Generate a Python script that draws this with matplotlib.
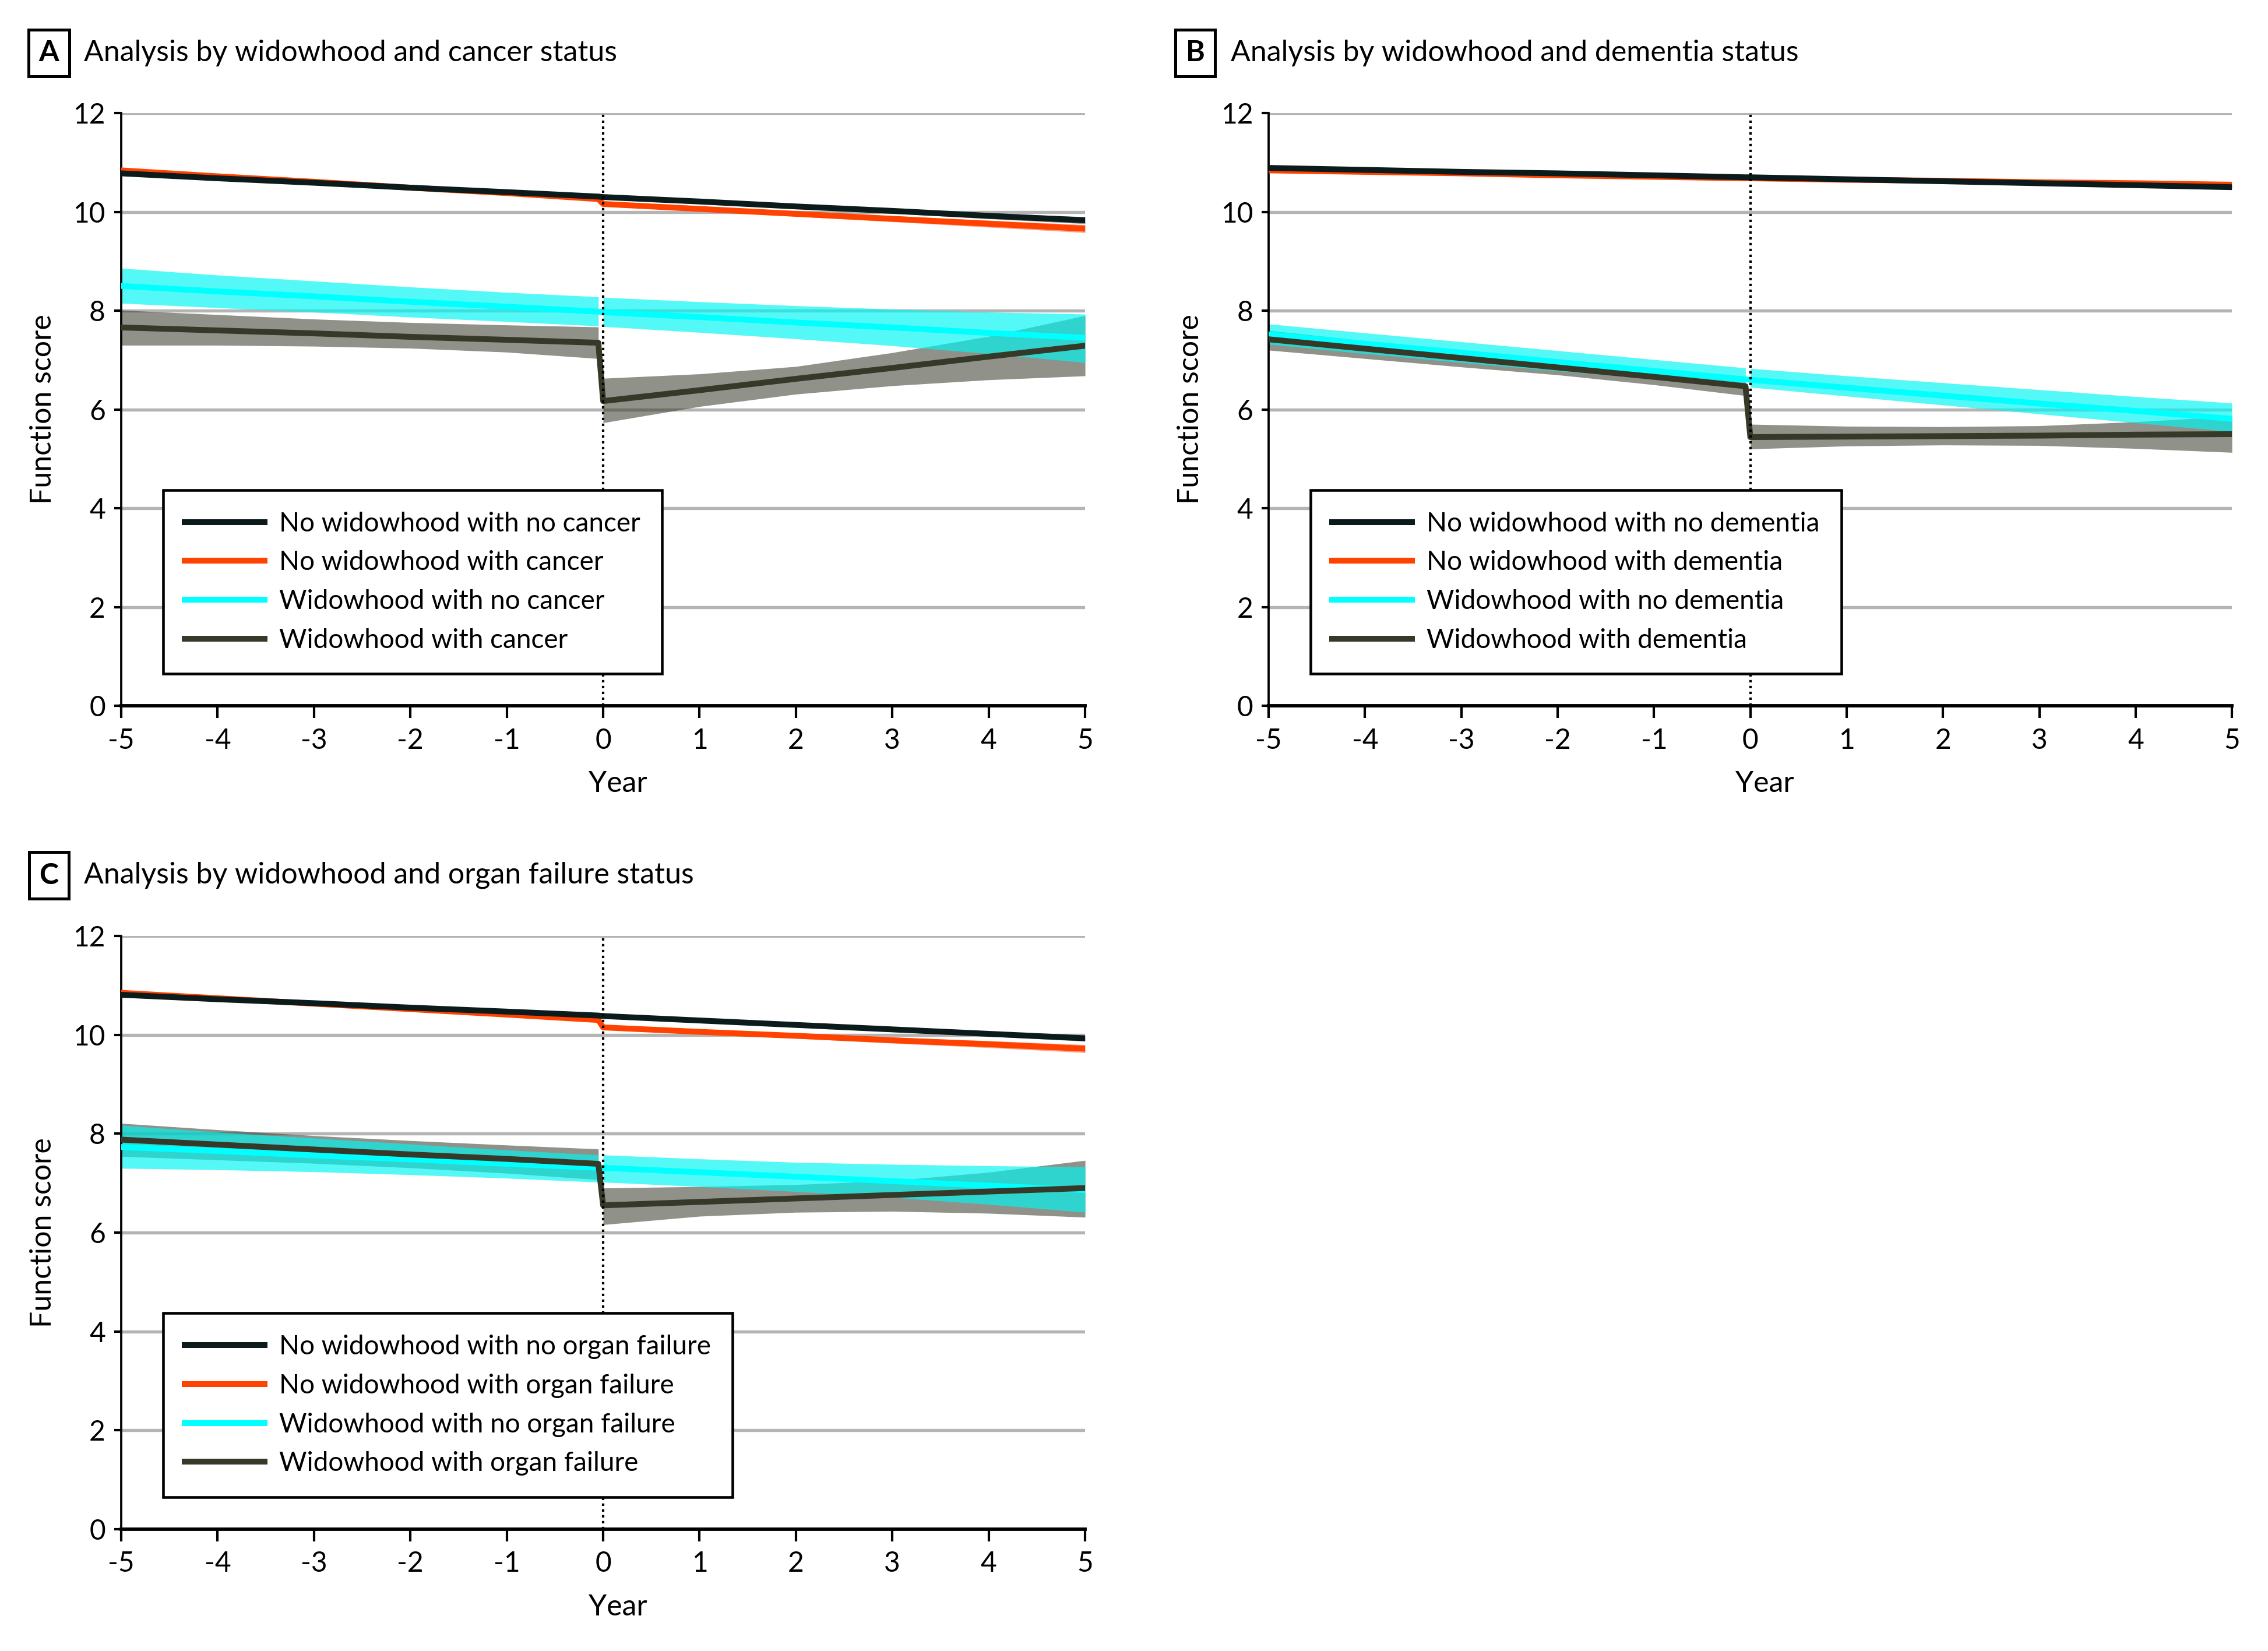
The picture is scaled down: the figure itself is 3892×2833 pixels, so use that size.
import numpy as np
import matplotlib
matplotlib.use("Agg")
import matplotlib.pyplot as plt
from matplotlib.lines import Line2D

plt.rcParams['font.family'] = ['Lato', 'DejaVu Sans']
plt.rcParams['axes.unicode_minus'] = False

# years: before widowhood (ends just before 0) and after widowhood
X_PRE = [-5, -4, -3, -2, -1, -0.05]
X_POST = [0, 1, 2, 3, 4, 5]

# ---- Panel A: cancer ----
A_NW_NC = [10.78, 10.68, 10.59, 10.49, 10.40, 10.31, 10.30, 10.21, 10.11, 10.02, 9.92, 9.83]
A_NW_NC_CI = [0.04, 0.035, 0.03, 0.03, 0.03, 0.03, 0.03, 0.035, 0.04, 0.05, 0.06, 0.07]
A_NW_C = [10.84, 10.72, 10.61, 10.49, 10.38, 10.26, 10.16, 10.06, 9.96, 9.86, 9.76, 9.66]
A_NW_C_CI = [0.04, 0.035, 0.03, 0.03, 0.03, 0.04, 0.04, 0.04, 0.05, 0.06, 0.07, 0.08]
A_W_NC = [8.50, 8.39, 8.29, 8.18, 8.08, 7.98, 7.97, 7.87, 7.76, 7.66, 7.55, 7.45]
A_W_NC_LO = [8.15, 8.06, 7.97, 7.87, 7.78, 7.69, 7.68, 7.56, 7.43, 7.29, 7.13, 6.95]
A_W_NC_HI = [8.86, 8.72, 8.60, 8.48, 8.37, 8.28, 8.27, 8.18, 8.10, 8.03, 7.97, 7.93]
A_W_C = [7.66, 7.60, 7.54, 7.47, 7.41, 7.35, 6.17, 6.39, 6.62, 6.84, 7.07, 7.29]
A_W_C_LO = [7.30, 7.30, 7.28, 7.24, 7.16, 7.03, 5.73, 6.06, 6.31, 6.48, 6.60, 6.68]
A_W_C_HI = [8.01, 7.92, 7.83, 7.76, 7.71, 7.67, 6.63, 6.72, 6.87, 7.15, 7.48, 7.90]

# ---- Panel B: dementia ----
B_NW_NC = [10.89, 10.85, 10.81, 10.78, 10.74, 10.70, 10.70, 10.66, 10.62, 10.58, 10.54, 10.50]
B_NW_NC_CI = [0.03, 0.03, 0.025, 0.025, 0.025, 0.025, 0.025, 0.025, 0.025, 0.03, 0.03, 0.035]
B_NW_C = [10.84, 10.81, 10.78, 10.74, 10.71, 10.68, 10.68, 10.65, 10.63, 10.60, 10.58, 10.55]
B_NW_C_CI = [0.03, 0.03, 0.025, 0.025, 0.025, 0.025, 0.025, 0.025, 0.025, 0.03, 0.03, 0.035]
B_W_NC = [7.52, 7.33, 7.15, 6.96, 6.78, 6.61, 6.60, 6.44, 6.28, 6.12, 5.97, 5.81]
B_W_NC_LO = [7.32, 7.13, 6.95, 6.78, 6.62, 6.46, 6.45, 6.27, 6.09, 5.91, 5.73, 5.55]
B_W_NC_HI = [7.73, 7.55, 7.37, 7.19, 7.01, 6.84, 6.83, 6.68, 6.54, 6.40, 6.26, 6.13]
B_W_C = [7.42, 7.23, 7.04, 6.85, 6.66, 6.47, 5.44, 5.45, 5.46, 5.47, 5.49, 5.50]
B_W_C_LO = [7.20, 7.03, 6.86, 6.70, 6.50, 6.28, 5.20, 5.26, 5.28, 5.27, 5.21, 5.13]
B_W_C_HI = [7.60, 7.39, 7.18, 6.97, 6.76, 6.55, 5.70, 5.66, 5.65, 5.67, 5.75, 5.86]

# ---- Panel C: organ failure ----
C_NW_NC = [10.81, 10.72, 10.64, 10.55, 10.47, 10.39, 10.38, 10.29, 10.20, 10.11, 10.02, 9.93]
C_NW_NC_CI = [0.04, 0.035, 0.03, 0.03, 0.03, 0.03, 0.03, 0.035, 0.04, 0.05, 0.05, 0.06]
C_NW_C = [10.85, 10.74, 10.63, 10.52, 10.41, 10.30, 10.15, 10.06, 9.98, 9.89, 9.81, 9.72]
C_NW_C_CI = [0.04, 0.035, 0.03, 0.03, 0.03, 0.04, 0.04, 0.04, 0.05, 0.06, 0.07, 0.08]
C_W_NC = [7.73, 7.65, 7.56, 7.48, 7.39, 7.31, 7.31, 7.22, 7.13, 7.04, 6.95, 6.86]
C_W_NC_LO = [7.30, 7.27, 7.23, 7.17, 7.10, 7.02, 7.02, 6.93, 6.83, 6.71, 6.57, 6.41]
C_W_NC_HI = [8.17, 8.03, 7.91, 7.79, 7.67, 7.57, 7.57, 7.49, 7.42, 7.38, 7.35, 7.33]
C_W_C = [7.88, 7.78, 7.68, 7.58, 7.49, 7.39, 6.55, 6.62, 6.69, 6.76, 6.83, 6.90]
C_W_C_LO = [7.54, 7.47, 7.40, 7.31, 7.20, 7.07, 6.16, 6.33, 6.41, 6.43, 6.39, 6.31]
C_W_C_HI = [8.21, 8.08, 7.96, 7.86, 7.77, 7.69, 6.90, 6.93, 6.97, 7.05, 7.22, 7.46]

X_TICKS = [-5, -4, -3, -2, -1, 0, 1, 2, 3, 4, 5]
Y_TICKS = [0, 2, 4, 6, 8, 10, 12]

DARK = '#0b1b1b'
ORANGE = '#ff4200'
CYAN = '#00ffff'
OLIVE = '#363828'

FS_TICK = 11.5
FS_LEG = 11
FS_TITLE = 12
LW = 2.4


def draw_band(ax, lo, hi, color, alpha):
    n = len(X_PRE)
    ax.fill_between(X_PRE, lo[:n], hi[:n], color=color, alpha=alpha, lw=0)
    ax.fill_between(X_POST, lo[n:], hi[n:], color=color, alpha=alpha, lw=0)


def panel(ax, nw_nc, nw_nc_ci, nw_c, nw_c_ci, w_nc, w_nc_lo, w_nc_hi,
          w_c, w_c_lo, w_c_hi, cond):
    xs = X_PRE + X_POST
    for y in Y_TICKS[1:]:
        ax.axhline(y, color='#b4b4b4', lw=1.3, zorder=0)

    draw_band(ax, w_c_lo, w_c_hi, OLIVE, 0.55)
    draw_band(ax, w_nc_lo, w_nc_hi, '#00f6f2', 0.67)
    a = np.array(nw_c); e = np.array(nw_c_ci)
    draw_band(ax, a - e, a + e, ORANGE, 0.5)
    a = np.array(nw_nc); e = np.array(nw_nc_ci)
    draw_band(ax, a - e, a + e, DARK, 0.45)

    ax.plot(xs, w_nc, color=CYAN, lw=LW, zorder=3)
    ax.plot(xs, w_c, color=OLIVE, lw=LW, zorder=3)
    ax.plot(xs, nw_c, color=ORANGE, lw=LW, zorder=3)
    ax.plot(xs, nw_nc, color=DARK, lw=LW, zorder=3)

    ax.plot([0, 0], [0, 12], color='black', lw=1.0, ls=(0, (1, 1.4)), zorder=4)

    ax.set_xlim(-5, 5)
    ax.set_ylim(0, 12)
    ax.set_xticks(X_TICKS)
    ax.set_yticks(Y_TICKS)
    ax.spines['top'].set_visible(False)
    ax.spines['right'].set_visible(False)
    ax.spines['left'].set_linewidth(0.9)
    ax.spines['bottom'].set_linewidth(1.4)
    ax.tick_params(axis='x', direction='out', length=5, width=1.0, pad=4, labelsize=FS_TICK)
    ax.tick_params(axis='y', direction='out', length=3, width=1.0, pad=3.5, labelsize=FS_TICK)

    ax.set_xlabel('Year', fontsize=FS_TITLE)
    ax.xaxis.set_label_coords(0.515, -0.132)
    ax.xaxis.label.set_va('center')
    ax.set_ylabel('Function score', fontsize=FS_TITLE)
    ax.yaxis.set_label_coords(-0.081, 0.5)
    ax.yaxis.label.set_va('center')

    handles = [Line2D([], [], color=DARK, lw=LW),
               Line2D([], [], color=ORANGE, lw=LW),
               Line2D([], [], color=CYAN, lw=LW),
               Line2D([], [], color=OLIVE, lw=LW)]
    labels = ['No widowhood with no ' + cond, 'No widowhood with ' + cond,
              'Widowhood with no ' + cond, 'Widowhood with ' + cond]
    leg = ax.legend(handles, labels, loc='upper left', bbox_to_anchor=(0.0435, 0.364),
                    borderaxespad=0, fontsize=FS_LEG, frameon=True, fancybox=False,
                    edgecolor='black', framealpha=1, handlelength=3.0, handletextpad=0.55,
                    labelspacing=0.54, borderpad=0.8)
    leg.get_frame().set_linewidth(1.1)
    leg.set_zorder(5)


fig = plt.figure(figsize=(3892 / 300, 2833 / 300), dpi=300)
ax_a = fig.add_axes([0.05344, 0.5725, 0.4250, 0.3590])
ax_b = fig.add_axes([0.5594, 0.5725, 0.4247, 0.3590])
ax_c = fig.add_axes([0.05344, 0.0738, 0.4250, 0.3593])

panel(ax_a, A_NW_NC, A_NW_NC_CI, A_NW_C, A_NW_C_CI, A_W_NC, A_W_NC_LO, A_W_NC_HI,
      A_W_C, A_W_C_LO, A_W_C_HI, 'cancer')
panel(ax_b, B_NW_NC, B_NW_NC_CI, B_NW_C, B_NW_C_CI, B_W_NC, B_W_NC_LO, B_W_NC_HI,
      B_W_C, B_W_C_LO, B_W_C_HI, 'dementia')
panel(ax_c, C_NW_NC, C_NW_NC_CI, C_NW_C, C_NW_C_CI, C_W_NC, C_W_NC_LO, C_W_NC_HI,
      C_W_C, C_W_C_LO, C_W_C_HI, 'organ failure')

box = dict(boxstyle='square,pad=0.35', fc='white', ec='black', lw=1.2)
titles = [(0.0215, 0.037, 0.968, 'A', 'Analysis by widowhood and cancer status'),
          (0.527, 0.5427, 0.968, 'B', 'Analysis by widowhood and dementia status'),
          (0.0215, 0.037, 0.4698, 'C', 'Analysis by widowhood and organ failure status')]
for bx, tx, ty, letter, title in titles:
    fig.text(bx, ty, letter, fontsize=FS_TITLE, fontweight='bold', ha='center', va='center', bbox=box)
    fig.text(tx, ty, title, fontsize=FS_TITLE, ha='left', va='center')

fig.savefig('out.png', dpi=300)
